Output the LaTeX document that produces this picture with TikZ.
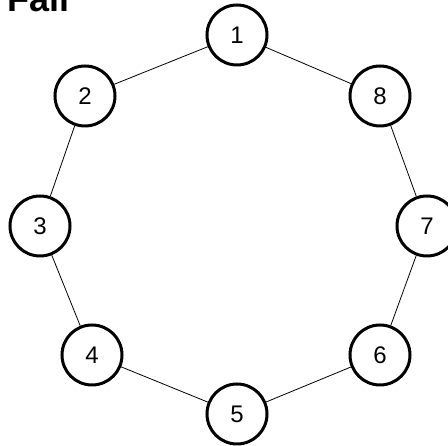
\documentclass[tikz,border=0pt]{standalone}
\usepackage{fontspec}
\setmainfont{Liberation Sans}
\begin{document}
\begin{tikzpicture}[x=1pt,y=1pt,
  ringnode/.style={circle,draw=black,line width=3pt,fill=white,
    minimum size=60pt,inner sep=0pt,font=\fontsize{24}{28}\selectfont},
  link/.style={draw=black,line width=0.8pt}]
  \useasboundingbox (0,0) rectangle (448,446);
  \begin{scope}
    \clip (0,0) rectangle (448,446);
    % heading, partly above the top edge
    \node[anchor=base west,inner sep=0pt,font=\bfseries\fontsize{36}{40}\selectfont] (title) at (7,434) {Fall};
    % ring of eight nodes
    \node[ringnode] (n1) at (237,411) {1};
    \node[ringnode] (n2) at (85,350) {2};
    \node[ringnode] (n3) at (40,220) {3};
    \node[ringnode] (n4) at (92,91) {4};
    \node[ringnode] (n5) at (237,32) {5};
    \node[ringnode] (n6) at (380,91) {6};
    \node[ringnode] (n7) at (427,220) {7};
    \node[ringnode] (n8) at (380,350) {8};
    % connectors around the ring
    \draw[link] (n1) -- (n2);
    \draw[link] (n2) -- (n3);
    \draw[link] (n3) -- (n4);
    \draw[link] (n4) -- (n5);
    \draw[link] (n5) -- (n6);
    \draw[link] (n6) -- (n7);
    \draw[link] (n7) -- (n8);
    \draw[link] (n8) -- (n1);
  \end{scope}
\end{tikzpicture}
\end{document}
